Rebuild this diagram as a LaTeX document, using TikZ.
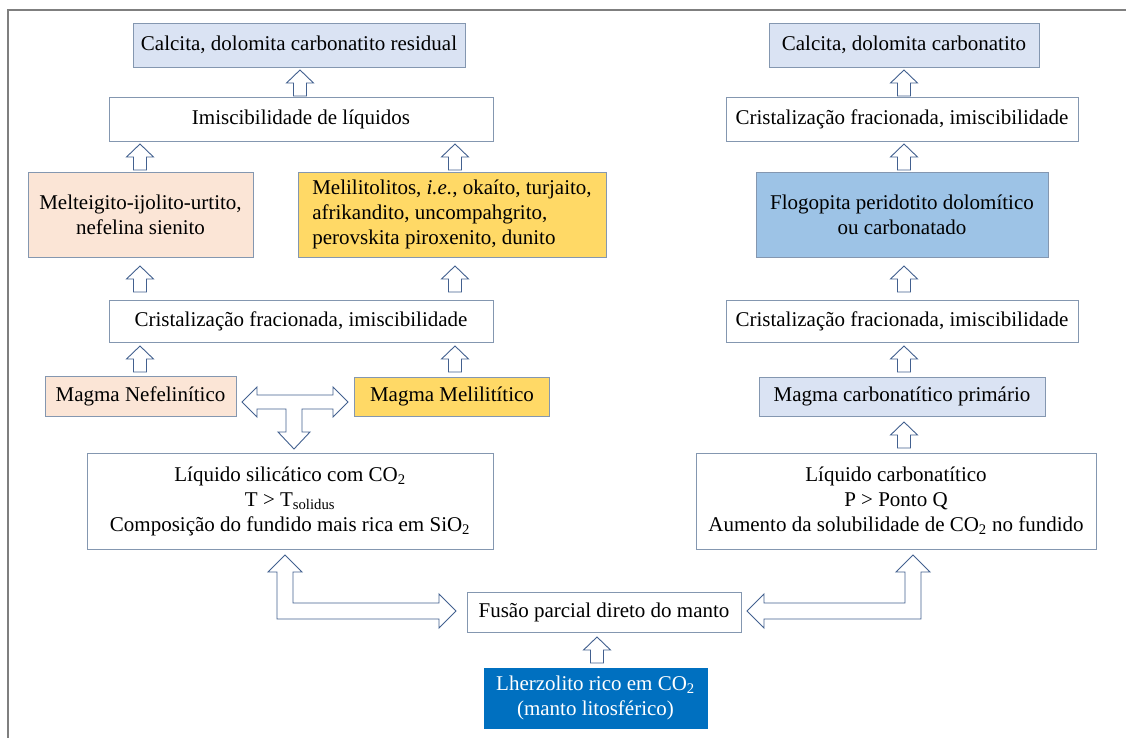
\documentclass[tikz,border=0pt]{standalone}
\usepackage{fontspec}
\setmainfont{Liberation Serif}
\definecolor{lblue}{HTML}{DAE3F3}
\definecolor{pinkf}{HTML}{FBE5D6}
\definecolor{yell}{HTML}{FFD966}
\definecolor{mblue}{HTML}{9DC3E6}
\definecolor{dblue}{HTML}{0070C0}
\definecolor{bord}{HTML}{8497B0}
\definecolor{arr}{HTML}{42608F}
\definecolor{framec}{HTML}{7F7F7F}
\begin{document}
\begin{tikzpicture}[x=1pt,y=-1pt,
  box/.style={draw=bord, line width=0.8pt, rectangle, inner sep=0pt,
    font=\fontsize{21}{25}\selectfont, align=center, text=black},
  blockarr/.style={draw=arr, fill=white, line width=0.9pt, line join=miter},
  pics/uparr/.style={code={\draw[blockarr] (-6.5,0) -- (-6.5,-13) -- (-13.5,-13) -- (0,-26) -- (13.5,-13) -- (6.5,-13) -- (6.5,0) -- cycle;}}
]
\useasboundingbox (0,0) rectangle (1126,738);
\draw[framec, line width=1.2pt] (8,738) -- (8,10) -- (1126,10);

% left column
\node[box, fill=lblue, minimum width=332, minimum height=44] (A) at (299,45) {Calcita, dolomita carbonatito residual};
\node[box, fill=white, minimum width=384, minimum height=44] (B) at (301,119) {Imiscibilidade de líquidos};
\node[box, fill=pinkf, minimum width=225, minimum height=85] (C) at (140.5,214.5) {Melteigito-ijolito-urtito,\\nefelina sienito};
\node[box, fill=yell, minimum width=308, minimum height=85, align=left] (D) at (452,214.5) {Melilitolitos, \textit{i.e.}, okaíto, turjaito,\\afrikandito, uncompahgrito,\\perovskita piroxenito, dunito};
\node[box, fill=white, minimum width=384, minimum height=42] (E) at (301,321) {Cristalização fracionada, imiscibilidade};
\node[box, fill=pinkf, minimum width=191, minimum height=40] (F) at (140.5,396) {Magma Nefelinítico};
\node[box, fill=yell, minimum width=195, minimum height=39] (G) at (452,396.5) {Magma Melilitítico};
\node[box, fill=white, minimum width=406, minimum height=96] (H) at (290,501) {Líquido silicático com CO\textsubscript{2}\\T > T\textsubscript{solidus}\\Composição do fundido mais rica em SiO\textsubscript{2}};

% bottom
\node[box, fill=white, minimum width=274, minimum height=40] (I) at (604,612) {Fusão parcial direto do manto};
\node[box, fill=dblue, draw=dblue, text=white, minimum width=223, minimum height=60] (J) at (595.5,698) {Lherzolito rico em CO\textsubscript{2}\\(manto litosférico)};

% right column
\node[box, fill=lblue, minimum width=270, minimum height=44] (K) at (904,45) {Calcita, dolomita carbonatito};
\node[box, fill=white, minimum width=352, minimum height=44] (L) at (902,119) {Cristalização fracionada, imiscibilidade};
\node[box, fill=mblue, minimum width=292, minimum height=85] (M) at (902,214.5) {Flogopita peridotito dolomítico\\ou carbonatado};
\node[box, fill=white, minimum width=352, minimum height=42] (N) at (902,321) {Cristalização fracionada, imiscibilidade};
\node[box, fill=lblue, minimum width=286, minimum height=39] (O) at (902,396.5) {Magma carbonatítico primário};
\node[box, fill=white, minimum width=400, minimum height=96] (P) at (896,501) {Líquido carbonatítico\\P > Ponto Q\\Aumento da solubilidade de CO\textsubscript{2} no fundido};

% small up arrows
\pic at (300,96) {uparr};
\pic at (904,96) {uparr};
\pic at (140,170) {uparr};
\pic at (455,170) {uparr};
\pic at (904,170) {uparr};
\pic at (140,292) {uparr};
\pic at (455,292) {uparr};
\pic at (904,292) {uparr};
\pic at (140,372) {uparr};
\pic at (455,372) {uparr};
\pic at (904,372) {uparr};
\pic at (904,448) {uparr};
\pic at (597,663) {uparr};

% T arrow
\draw[blockarr] (242,402) -- (257,387) -- (257,395) -- (333,395) -- (333,387) -- (348,402) -- (333,417) -- (333,409) -- (302,409) -- (302,432) -- (310,432) -- (294,449) -- (278,432) -- (286,432) -- (286,409) -- (257,409) -- (257,417) -- cycle;

% bent arrows
\draw[blockarr] (285,555) -- (302,572) -- (293,572) -- (293,603) -- (439,603) -- (439,594) -- (456,611) -- (439,628) -- (439,619) -- (277,619) -- (277,572) -- (268,572) -- cycle;
\draw[blockarr] (913,555) -- (930,572) -- (921,572) -- (921,619) -- (764,619) -- (764,628) -- (747,611) -- (764,594) -- (764,603) -- (905,603) -- (905,572) -- (896,572) -- cycle;
\end{tikzpicture}
\end{document}
